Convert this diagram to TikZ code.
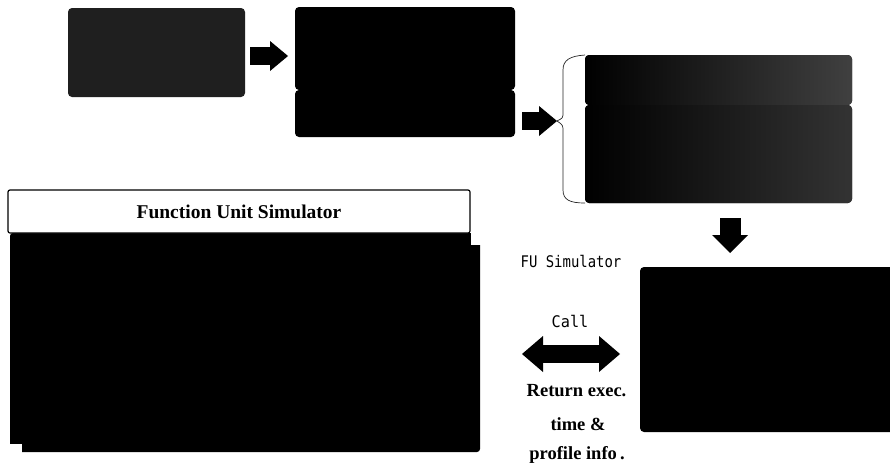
\documentclass[tikz,border=0pt]{standalone}
\usepackage{fontspec}
\usepackage{graphicx}
\setmainfont{Liberation Serif}
\newfontfamily\gulim{DejaVu Sans Mono}
\usetikzlibrary{arrows.meta,calc}
\begin{document}
\begin{tikzpicture}[x=1pt,y=-1pt,
  blk/.style={draw=none, fill=black, rounded corners=4pt, inner sep=0pt, outer sep=0pt},
  fatarrow/.style={draw=black, line width=18pt, -{Triangle[length=18pt,width=30pt,line width=0pt]}},
  downarrow/.style={draw=black, line width=21pt, -{Triangle[length=18pt,width=36pt,line width=0pt]}},
  dblarrow/.style={draw=black, line width=18pt, {Triangle[length=21pt,width=36pt,line width=0pt]}-{Triangle[length=21pt,width=36pt,line width=0pt]}},
  boldlbl/.style={font=\bfseries\fontsize{18.5}{20}\selectfont, inner sep=0pt},
  monolbl/.style={font=\gulim\fontsize{16}{18}\selectfont, inner sep=0pt},
]
\useasboundingbox (0,0) rectangle (890,464);
\fill[white] (0,0) rectangle (890,464);

% top row boxes
\node[blk, fill=black!88, minimum width=177pt, minimum height=89pt] (b1) at (156.5,52.5) {};
\node[blk, minimum width=220pt, minimum height=83pt] (b2a) at (405,48.5) {};
\node[blk, minimum width=220pt, minimum height=47pt] (b2b) at (405,113.5) {};
\node[blk, left color=black, middle color=black, right color=black!75, minimum width=267pt, minimum height=50pt] (b3a) at (718.5,80) {};
\node[blk, left color=black, middle color=black, right color=black!80, minimum width=267pt, minimum height=98pt] (b3b) at (718.5,154) {};

% bottom right box
\node[blk, minimum width=255pt, minimum height=165pt] (b4) at (767.5,349.5) {};

% Function Unit Simulator
\node[blk, rounded corners=3pt, minimum width=470pt, minimum height=219pt] (body) at (245,342.5) {};
\fill[white] (470.6,232) rectangle (482,245);
\fill[white] (8,443.5) rectangle (22,454);
\node[draw=black, line width=1.2pt, fill=white, rounded corners=2pt, minimum width=462pt, minimum height=43pt, inner sep=0pt,
  font=\bfseries\fontsize{19.5}{22}\selectfont] (hdr) at (239,211.5) {Function Unit Simulator};

% brace
\coordinate (bt) at (557,121);
\draw[line width=0.7pt, black!85] (b3a.north west) .. controls (570,56) and (563,60) .. (563,70)
  -- (563,112) .. controls (563,118) .. (bt) .. controls (563,125) .. (563,132)
  -- (563,190) .. controls (563,200) and (570,203) .. (b3b.south west);

% arrows
\draw[fatarrow] ($(b1.east)+(5,3.5)$) -- ($(b1.east -| b2a.west)+(-7,3.5)$);
\draw[fatarrow] ($(b2b.east)+(7,7.5)$) -- (bt);
\coordinate (ds) at ($(b3b.south)+(11.5,15)$);
\draw[downarrow] (ds) -- ($(ds |- b4.north)+(0,-14)$);
\draw[dblarrow] ($(body.east)+(42,11.5)$) -- ($(b4.west)+(-20,4.5)$);

% labels
\node[monolbl] (fulbl) at (571,261) {\scalebox{0.87}[1]{FU Simulator}};
\node[monolbl] (calllbl) at (570,321) {\scalebox{0.95}[1]{Call}};
\node[boldlbl] (ret1) at (576.5,391) {Return exec.};
\node[boldlbl] (ret2) at (578,424) {time \&};
\node[boldlbl] (ret3) at (577,455) {profile info\,.};
\end{tikzpicture}
\end{document}
